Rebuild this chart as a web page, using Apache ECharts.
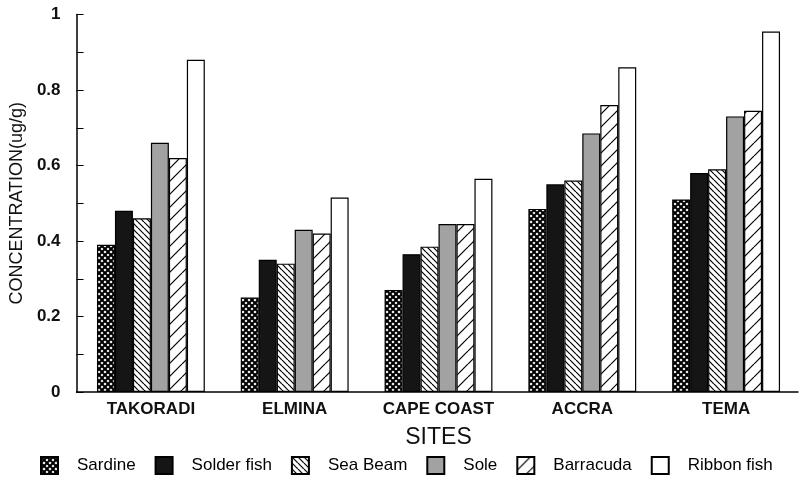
<!DOCTYPE html>
<html>
<head>
<meta charset="utf-8">
<script src="https://cdn.jsdelivr.net/npm/echarts@6/dist/echarts.min.js"></script>
<style>
  html, body { margin: 0; padding: 0; background: #fff; }
  #chart { width: 805px; height: 494px; }
</style>
</head>
<body>
<div id="chart"></div>
<script>
// Sites and fish species
const categories = ['TAKORADI', 'ELMINA', 'CAPE COAST', 'ACCRA', 'TEMA'];
const speciesNames = ['Sardine', 'Solder fish', 'Sea Beam', 'Sole', 'Barracuda', 'Ribbon fish'];

// Concentration (ug/g) per site, one array per species
const sardine    = [0.39, 0.25, 0.27, 0.485, 0.51];
const solderFish = [0.48, 0.35, 0.365, 0.55, 0.58];
const seaBeam    = [0.46, 0.34, 0.385, 0.56, 0.59];
const sole       = [0.66, 0.43, 0.445, 0.685, 0.73];
const barracuda  = [0.62, 0.42, 0.445, 0.76, 0.745];
const ribbonFish = [0.88, 0.515, 0.565, 0.86, 0.955];

const yTicks = [0, 0.2, 0.4, 0.6, 0.8, 1];

// Fill patterns for the bars, drawn on small repeating tiles
function tile(size, draw, bg) {
  const c = document.createElement('canvas');
  c.width = c.height = size;
  const ctx = c.getContext('2d');
  ctx.fillStyle = bg || '#fff';
  ctx.fillRect(0, 0, size, size);
  ctx.strokeStyle = '#000';
  draw(ctx, size);
  return { image: c, repeat: 'repeat' };
}
function diag(ctx, s, down) {
  for (let k = -1; k <= 1; k++) {
    ctx.beginPath();
    if (down) { ctx.moveTo(k * s, 0); ctx.lineTo(k * s + s, s); }
    else { ctx.moveTo(k * s, s); ctx.lineTo(k * s + s, 0); }
    ctx.stroke();
  }
}
const fills = [
  tile(6, (ctx, s) => { ctx.lineWidth = 2; diag(ctx, s, true); diag(ctx, s, false); }),
  '#151515',
  tile(6, (ctx, s) => { ctx.lineWidth = 1.2; diag(ctx, s, true); }),
  '#a2a2a2',
  tile(13, (ctx, s) => { ctx.lineWidth = 1.2; diag(ctx, s, false); }),
  '#ffffff'
];

const values = [sardine, solderFish, seaBeam, sole, barracuda, ribbonFish];
const FONT = 'Liberation Sans, Arial, sans-serif';

const chart = echarts.init(document.getElementById('chart'), null, { renderer: 'canvas' });
chart.setOption({
  backgroundColor: '#fff',
  animation: false,
  grid: [
    { left: 69, top: 14.5, width: 729, height: 377.5 },
    { left: 79, top: 14.5, width: 719, height: 377.5 }
  ],
  legend: {
    left: 35, top: 451,
    icon: 'rect',
    itemWidth: 17, itemHeight: 17, itemGap: 19,
    data: speciesNames,
    textStyle: { fontFamily: FONT, fontSize: 17, color: '#000', padding: [0, 0, 0, 14] }
  },
  xAxis: [
    {
      type: 'value', gridIndex: 0, min: 0, max: 1,
      axisLine: { show: true, onZero: false, lineStyle: { color: '#000', width: 1.5 } },
      axisTick: { show: false }, axisLabel: { show: false }, splitLine: { show: false }
    },
    {
      type: 'category', gridIndex: 1, data: categories,
      axisLine: { show: false }, axisTick: { show: false },
      axisLabel: { interval: 0, fontFamily: FONT, fontSize: 17, fontWeight: 'bold', color: '#111', margin: 9 },
      name: 'SITES', nameLocation: 'middle', nameGap: 34,
      nameTextStyle: { fontFamily: FONT, fontSize: 23, color: '#111' }
    }
  ],
  yAxis: [
    {
      type: 'value', gridIndex: 0, min: 0, max: 1, interval: 0.2,
      axisLine: { show: true, lineStyle: { color: '#000', width: 1.5 } },
      axisTick: { show: true, inside: true, length: 7, lineStyle: { color: '#000', width: 1 } },
      minorTick: { show: true, splitNumber: 2, length: 7, lineStyle: { color: '#000', width: 1 } },
      splitLine: { show: false },
      axisLabel: {
        fontFamily: FONT, fontSize: 17, fontWeight: 'bold', color: '#111', margin: 16,
        formatter: v => yTicks.includes(Math.round(v * 10) / 10) ? String(Math.round(v * 10) / 10) : ''
      },
      name: 'CONCENTRATION(ug/g)', nameLocation: 'middle', nameGap: 41,
      nameTextStyle: { fontFamily: FONT, fontSize: 18, color: '#111' }
    },
    { type: 'value', gridIndex: 1, min: 0, max: 1, show: false }
  ],
  series: values.map((data, i) => ({
    name: speciesNames[i],
    type: 'bar',
    xAxisIndex: 1, yAxisIndex: 1,
    data: data,
    barGap: '0%',
    barCategoryGap: '25%',
    itemStyle: { color: fills[i], borderColor: '#000', borderWidth: 1.2 }
  }))
});
</script>
</body>
</html>
